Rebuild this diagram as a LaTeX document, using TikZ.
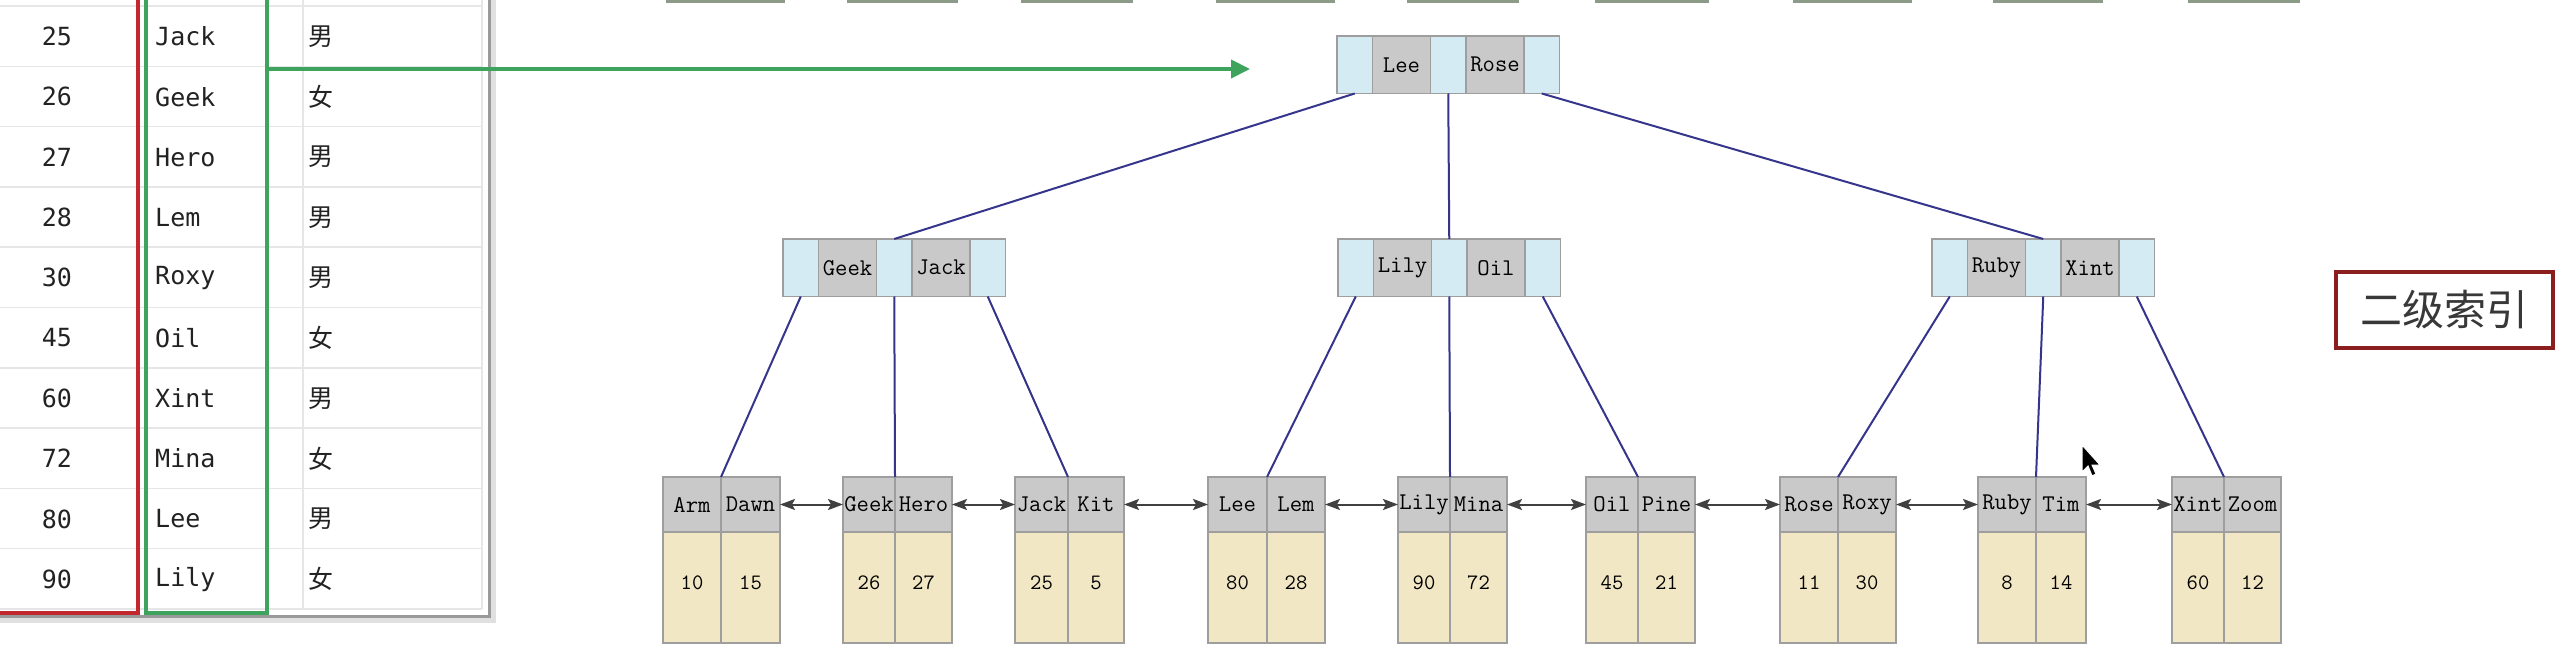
\documentclass[tikz,border=0pt]{standalone}
\usepackage{fontspec}
\usetikzlibrary{arrows.meta}
\newfontfamily\tabfont{DejaVu Sans Mono}
\newfontfamily\cjk{Noto Sans CJK SC}
\definecolor{gridc}{HTML}{E6E6E6}
\definecolor{redbox}{HTML}{C1272D}
\definecolor{greenbox}{HTML}{3DA35D}
\definecolor{bluecell}{HTML}{D5EBF4}
\definecolor{greycell}{HTML}{C9C9C9}
\definecolor{beigecell}{HTML}{F2E7C4}
\definecolor{cellborder}{HTML}{9E9E9E}
\definecolor{treeline}{HTML}{35358C}
\definecolor{arrowgrey}{HTML}{404040}
\definecolor{txt}{HTML}{222222}
\definecolor{idxbox}{HTML}{8B1E1E}
\definecolor{topseg}{HTML}{8C9A88}
\newcommand\innode[5]{%
  \node[bcell, anchor=north west] (#1-b1) at (#2,#3) {};
  \node[kcell, anchor=north west] (#1-k1) at (#1-b1.north east) {#4};
  \node[bcell, anchor=north west] (#1-b2) at (#1-k1.north east) {};
  \node[kcell, anchor=north west] (#1-k2) at (#1-b2.north east) {#5};
  \node[bcell, anchor=north west] (#1-b3) at (#1-k2.north east) {};
}
\newcommand\leafnode[8]{%
  \pgfmathsetmacro\wa{#3-#2}%
  \pgfmathsetmacro\wb{#4-#3}%
  \node[hcell, minimum width=\wa pt, anchor=north west] (#1-h1) at (#2,477) {#5};
  \node[hcell, minimum width=\wb pt, anchor=north west] (#1-h2) at (#1-h1.north east) {#6};
  \node[dcell, minimum width=\wa pt, anchor=north west] (#1-d1) at (#1-h1.south west) {};
  \node[dcell, minimum width=\wb pt, anchor=north west] (#1-d2) at (#1-h2.south west) {};
  \node[numtxt] (#1-v1) at ([yshift=5pt]#1-d1.center) {#7};
  \node[numtxt] (#1-v2) at ([yshift=5pt]#1-d2.center) {#8};
}
\begin{document}
\begin{tikzpicture}[x=1pt,y=-1pt,
  tabtxt/.style={font=\tabfont\fontsize{25}{25}\selectfont, text=txt, inner sep=0pt},
  cjktxt/.style={font=\cjk\fontsize{25}{25}\selectfont, text=txt, inner sep=0pt},
  bcell/.style={draw=cellborder, line width=1.2pt, fill=bluecell, minimum width=35.5pt, minimum height=57.5pt, inner sep=0pt, outer sep=0pt},
  kcell/.style={draw=cellborder, line width=1.2pt, fill=greycell, minimum width=58pt, minimum height=57.5pt, inner sep=0pt, outer sep=0pt, font=\ttfamily\fontsize{24}{24}\selectfont, text=black},
  hcell/.style={draw=cellborder, line width=1.2pt, fill=greycell, minimum height=55pt, inner sep=0pt, outer sep=0pt, font=\ttfamily\fontsize{24}{24}\selectfont, text=black},
  dcell/.style={draw=cellborder, line width=1.2pt, fill=beigecell, minimum height=111pt, inner sep=0pt, outer sep=0pt},
  numtxt/.style={font=\ttfamily\fontsize{22}{22}\selectfont, text=black, inner sep=0pt},
  tline/.style={draw=treeline, line width=2pt},
  dbl/.style={{Stealth[length=15pt,width=11pt,inset=3pt]}-{Stealth[length=15pt,width=11pt,inset=3pt]}, line width=2pt, draw=arrowgrey},
  topline/.style={draw=topseg, line width=3.5pt}
]
\useasboundingbox (0,0) rectangle (2574,652);
\clip (0,0) rectangle (2574,652);
\fill[white] (0,0) rectangle (2574,652);

% ---------- table ----------
\foreach \i in {0,...,10}{
  \pgfmathsetmacro\yl{6+60.3*\i}
  \draw[gridc, line width=1.5pt] (0,\yl) -- (482,\yl);
}
\draw[gridc, line width=1.5pt] (303,0) -- (303,609);
\draw[gridc, line width=1.5pt] (482,0) -- (482,609);
\draw[black!12, line width=5pt] (493,0) -- (493,620) -- (0,620);
\draw[black!40, line width=3pt] (489,0) -- (489,616) -- (0,616);

\foreach \i/\id/\nm/\g in {0/25/Jack/男,1/26/Geek/女,2/27/Hero/男,3/28/Lem/男,4/30/Roxy/男,5/45/Oil/女,6/60/Xint/男,7/72/Mina/女,8/80/Lee/男,9/90/Lily/女}{
  \pgfmathsetmacro\yy{36.5+60.3*\i}
  \node[tabtxt] (id\i) at (57,\yy) {\id};
  \node[tabtxt, anchor=west] (nm\i) at (155,\yy) {\nm};
  \node[cjktxt, anchor=west] (g\i) at (308,\yy) {\g};
}
\draw[redbox, line width=4pt] (-10,-10) rectangle (138,613);
\draw[greenbox, line width=4pt] (146,-10) rectangle (267,613);
\coordinate (gstart) at (267,69);
\coordinate (gend) at (1250,69);
\draw[greenbox, line width=4pt, -{Triangle[length=19pt,width=18pt]}] (gstart) -- (gend);

% ---------- top cut segments ----------
\foreach \a/\b in {666/785,847/958,1021/1133,1216/1335,1407/1519,1595/1709,1793/1912,1993/2103,2188/2300}{
  \draw[topline] (\a,1) -- (\b,1);
}

% ---------- tree ----------
\innode{root}{1337}{36}{Lee}{Rose}
\innode{lA}{783}{239}{Geek}{Jack}
\innode{lB}{1338}{239}{Lily}{Oil}
\innode{lC}{1932}{239}{Ruby}{Xint}

\leafnode{f1}{663}{721}{780}{Arm}{Dawn}{10}{15}
\leafnode{f2}{843}{895}{952}{Geek}{Hero}{26}{27}
\leafnode{f3}{1015}{1068}{1124}{Jack}{Kit}{25}{5}
\leafnode{f4}{1208}{1267}{1325}{Lee}{Lem}{80}{28}
\leafnode{f5}{1398}{1450}{1507}{Lily}{Mina}{90}{72}
\leafnode{f6}{1586}{1638}{1695}{Oil}{Pine}{45}{21}
\leafnode{f7}{1780}{1838}{1896}{Rose}{Roxy}{11}{30}
\leafnode{f8}{1978}{2036}{2086}{Ruby}{Tim}{8}{14}
\leafnode{f9}{2172}{2224}{2281}{Xint}{Zoom}{60}{12}

\draw[tline] (root-b1.south) -- (lA-b2.north);
\draw[tline] (root-b2.south) -- (lB-b2.north);
\draw[tline] (root-b3.south) -- (lC-b2.north);
\draw[tline] (lA-b1.south) -- (f1-h1.north east);
\draw[tline] (lA-b2.south) -- (f2-h1.north east);
\draw[tline] (lA-b3.south) -- (f3-h1.north east);
\draw[tline] (lB-b1.south) -- (f4-h1.north east);
\draw[tline] (lB-b2.south) -- (f5-h1.north east);
\draw[tline] (lB-b3.south) -- (f6-h1.north east);
\draw[tline] (lC-b1.south) -- (f7-h1.north east);
\draw[tline] (lC-b2.south) -- (f8-h1.north east);
\draw[tline] (lC-b3.south) -- (f9-h1.north east);

\draw[dbl] (f1-h2.east) -- (f2-h1.west);
\draw[dbl] (f2-h2.east) -- (f3-h1.west);
\draw[dbl] (f3-h2.east) -- (f4-h1.west);
\draw[dbl] (f4-h2.east) -- (f5-h1.west);
\draw[dbl] (f5-h2.east) -- (f6-h1.west);
\draw[dbl] (f6-h2.east) -- (f7-h1.west);
\draw[dbl] (f7-h2.east) -- (f8-h1.west);
\draw[dbl] (f8-h2.east) -- (f9-h1.west);

% ---------- label box ----------
\node[draw=idxbox, line width=3.5pt, minimum width=217pt, minimum height=76pt, inner sep=0pt,
      font=\cjk\fontsize{42}{42}\selectfont, text=black!78] (idx) at (2444.5,310) {二级索引};

% ---------- mouse cursor ----------
\filldraw[fill=black, draw=white, line width=1pt] (2082,445) -- (2082,472) -- (2088,466) -- (2092,476) -- (2096,474) -- (2092,465) -- (2100,465) -- cycle;
\end{tikzpicture}
\end{document}
